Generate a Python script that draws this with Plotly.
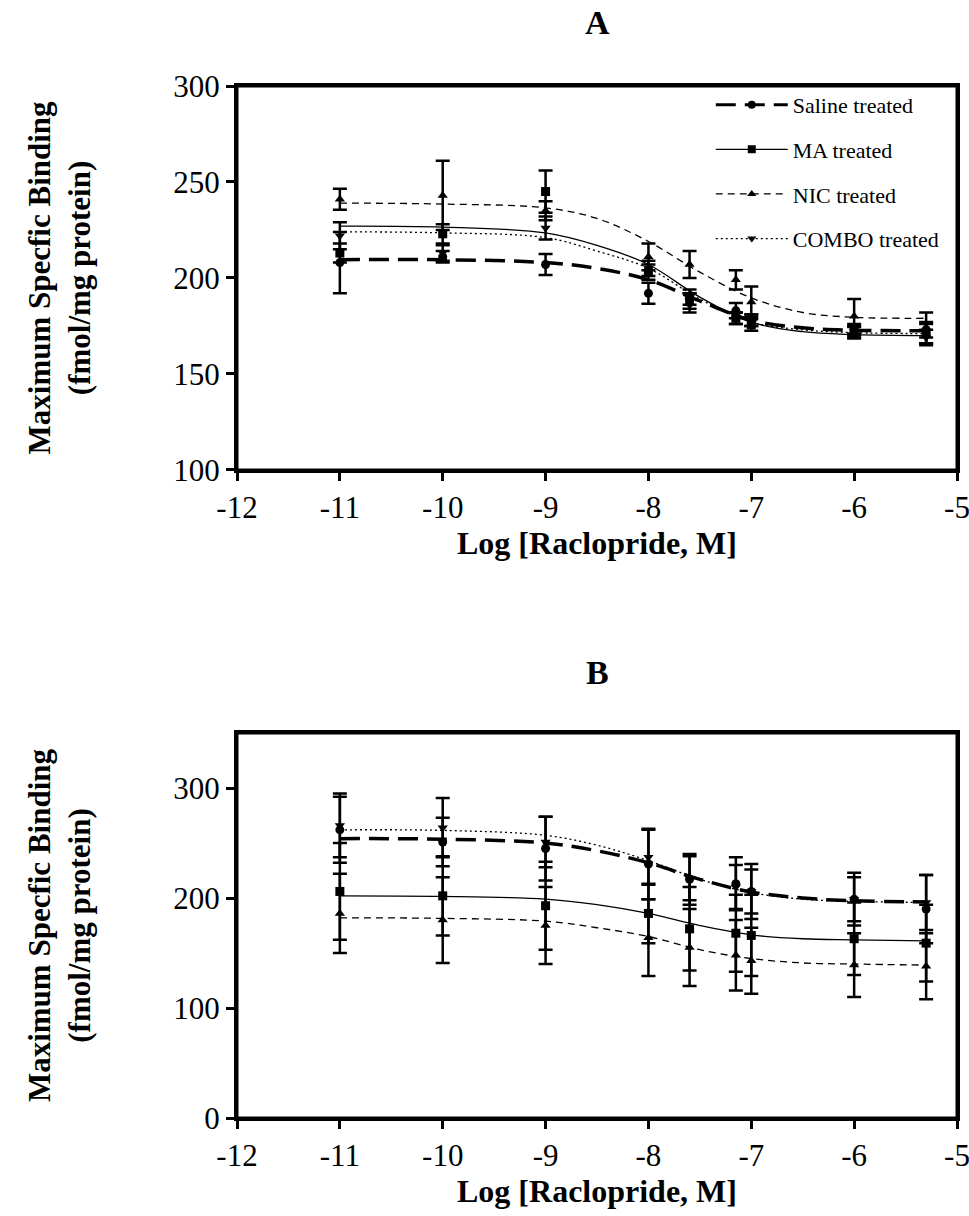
import plotly.graph_objects as go

# measured concentrations (log M) and the fitted-curve sample points
x_pts = [-11, -10, -9, -8, -7.6, -7.15, -7, -6, -5.3]
x_fit = [-11, -10, -9, -8.5, -8, -7.5, -7, -6.5, -6, -5.3]

x_ticks = [-12, -11, -10, -9, -8, -7, -6, -5]
x_ticklabels = ["-12", "-11", "-10", "-9", "-8", "-7", "-6", "-5"]

series = ["Saline treated", "MA treated", "NIC treated", "COMBO treated"]

# panel A
a_saline = [208, 211, 207, 192, 187, 183, 178, 173, 173]
a_saline_err = [16, 3, 5.5, 5.5, 5, 4, 3, 3, 4]
a_ma = [213, 223, 245, 203, 190, 179, 175.5, 171.5, 171]
a_ma_err = [5, 5, 11, 4, 4, 3, 3, 3, 5]
a_nic = [241, 243, 235, 211, 207, 199, 187.5, 180, 174]
a_nic_err = [5.5, 18, 5, 7, 7, 5, 8, 9, 8]
a_combo = [222, 213, 226, 205, 188, 179, 178, 172, 169]
a_combo_err = [7, 4, 6, 4, 4, 3, 3, 3, 4]

a_saline_fit = [209.5, 209.5, 208, 205, 199, 188, 178, 174, 172.8, 172.5]
a_ma_fit = [227, 226.5, 223.5, 217, 207, 190, 177, 172, 170.5, 170]
a_nic_fit = [239, 238.5, 236.5, 231, 219, 203, 189.6, 182, 179.5, 179]
a_combo_fit = [224, 223.5, 221, 214, 205, 189, 177, 173, 171.5, 171]

# panel B
b_saline = [262, 251, 245, 231, 217, 213, 206, 199, 190]
b_saline_err = [30, 22, 29, 32, 23, 24, 25, 24, 31]
b_ma = [206, 202, 193, 186, 172, 168, 166, 163, 159]
b_ma_err = [44, 36, 40, 27, 38, 35, 37, 33, 35]
b_nic = [186, 180, 175, 164, 155, 148, 143, 139, 138]
b_nic_err = [36, 39, 35, 35, 35, 32, 30, 29, 30]
b_combo = [266, 264, 251, 237, 218, 210, 206, 199, 196]
b_combo_err = [29, 27, 23, 25, 20, 20, 20, 20, 25]

b_saline_fit = [254, 253.5, 250, 243, 232, 217, 205.5, 200, 197.5, 196.5]
b_ma_fit = [202, 201.5, 199, 194, 186, 175, 166.5, 163, 162, 161]
b_nic_fit = [182, 181.5, 179, 173, 165, 153, 145, 141, 140, 139]
b_combo_fit = [262, 261.5, 257, 248, 234, 217, 205, 199, 197, 196]

styles = {
    "Saline treated": dict(width=3.5, dash="20px,9px", symbol="circle"),
    "MA treated": dict(width=1.3, dash="solid", symbol="square"),
    "NIC treated": dict(width=1.3, dash="7px,5px", symbol="triangle-up"),
    "COMBO treated": dict(width=1.3, dash="2px,3px", symbol="triangle-down"),
}

FONT = "Liberation Serif"

fig = go.Figure()


def add_panel(fig, xa, ya, data):
    for name, (vals, errs, fit) in zip(series, data):
        st = styles[name]
        fig.add_trace(go.Scatter(
            x=x_fit, y=fit, mode="lines", line_shape="spline",
            line=dict(color="black", width=st["width"], dash=st["dash"]),
            xaxis=xa, yaxis=ya, showlegend=False, hoverinfo="skip"))
        fig.add_trace(go.Scatter(
            x=x_pts, y=vals, mode="markers",
            marker=dict(color="black", size=9, symbol=st["symbol"]),
            error_y=dict(type="data", array=errs, color="black", thickness=2.5, width=7),
            xaxis=xa, yaxis=ya, showlegend=False, name=name))
    # box frame around the panel
    fig.add_shape(type="rect", xref=f"{xa} domain", yref=f"{ya} domain",
                  x0=0, x1=1, y0=0, y1=1, line=dict(color="black", width=3),
                  fillcolor="rgba(0,0,0,0)", layer="above")


add_panel(fig, "x", "y", [
    (a_saline, a_saline_err, a_saline_fit),
    (a_ma, a_ma_err, a_ma_fit),
    (a_nic, a_nic_err, a_nic_fit),
    (a_combo, a_combo_err, a_combo_fit),
])
add_panel(fig, "x2", "y2", [
    (b_saline, b_saline_err, b_saline_fit),
    (b_ma, b_ma_err, b_ma_fit),
    (b_nic, b_nic_err, b_nic_fit),
    (b_combo, b_combo_err, b_combo_fit),
])

# legend entries (line + marker samples)
for name in series:
    st = styles[name]
    fig.add_trace(go.Scatter(
        x=[None], y=[None], mode="lines+markers", name=name,
        legendgroup=name,
        line=dict(color="black", width=min(st["width"], 3), dash=st["dash"]),
        marker=dict(color="black", size=8, symbol=st["symbol"]),
        xaxis="x", yaxis="y"))

ax_common = dict(
    showline=True, linewidth=3, linecolor="black", mirror=True,
    ticks="outside", ticklen=8, tickwidth=3, tickcolor="black",
    showgrid=False, zeroline=False, automargin=False, ticklabeloverflow="allow",
    tickfont=dict(family=FONT, size=31, color="black"),
)
xtitle = dict(text="<b>Log [Raclopride, M]</b>", font=dict(family=FONT, size=32, color="black"), standoff=4)
ytitle = dict(text="<b>Maximum Specfic Binding<br>(fmol/mg protein)</b>",
              font=dict(family=FONT, size=31, color="black"), standoff=74)

fig.update_layout(
    width=969, height=1216,
    margin=dict(l=237, r=12, t=86, b=98, autoexpand=False),
    paper_bgcolor="white", plot_bgcolor="white",
    showlegend=True,
    legend=dict(x=0.658, y=1.002, xanchor="left", yanchor="top",
                font=dict(family=FONT, size=22, color="black"),
                itemwidth=72, tracegroupgap=13, bgcolor="rgba(0,0,0,0)"),
    xaxis=dict(ax_common, domain=[0, 1], anchor="y", range=[-12, -5],
               tickvals=x_ticks, ticktext=x_ticklabels, title=xtitle),
    yaxis=dict(ax_common, domain=[0.628, 1], anchor="x", range=[100, 300], dtick=50, title=ytitle),
    xaxis2=dict(ax_common, domain=[0, 1], anchor="y2", range=[-12, -5],
                tickvals=x_ticks, ticktext=x_ticklabels, title=xtitle),
    yaxis2=dict(ax_common, domain=[0, 0.373], anchor="x2", range=[0, 350],
                tickvals=[0, 100, 200, 300], title=ytitle),
    annotations=[
        dict(text="<b>A</b>", x=0.5, y=1, xref="paper", yref="paper", yanchor="middle", yshift=64,
             showarrow=False, font=dict(family=FONT, size=34, color="black")),
        dict(text="<b>B</b>", x=0.5, y=0.373, xref="paper", yref="paper", yanchor="middle", yshift=61,
             showarrow=False, font=dict(family=FONT, size=34, color="black")),
    ],
)

# drop the page margin and scrollbars so the 969x1216 figure fills the window exactly
page_fix = (
    "document.documentElement.style.overflow='hidden';"
    "document.body.style.margin='0';"
    "document.body.style.overflow='hidden';"
)
fig.write_html("out.html", config={"displayModeBar": False}, post_script=page_fix)
